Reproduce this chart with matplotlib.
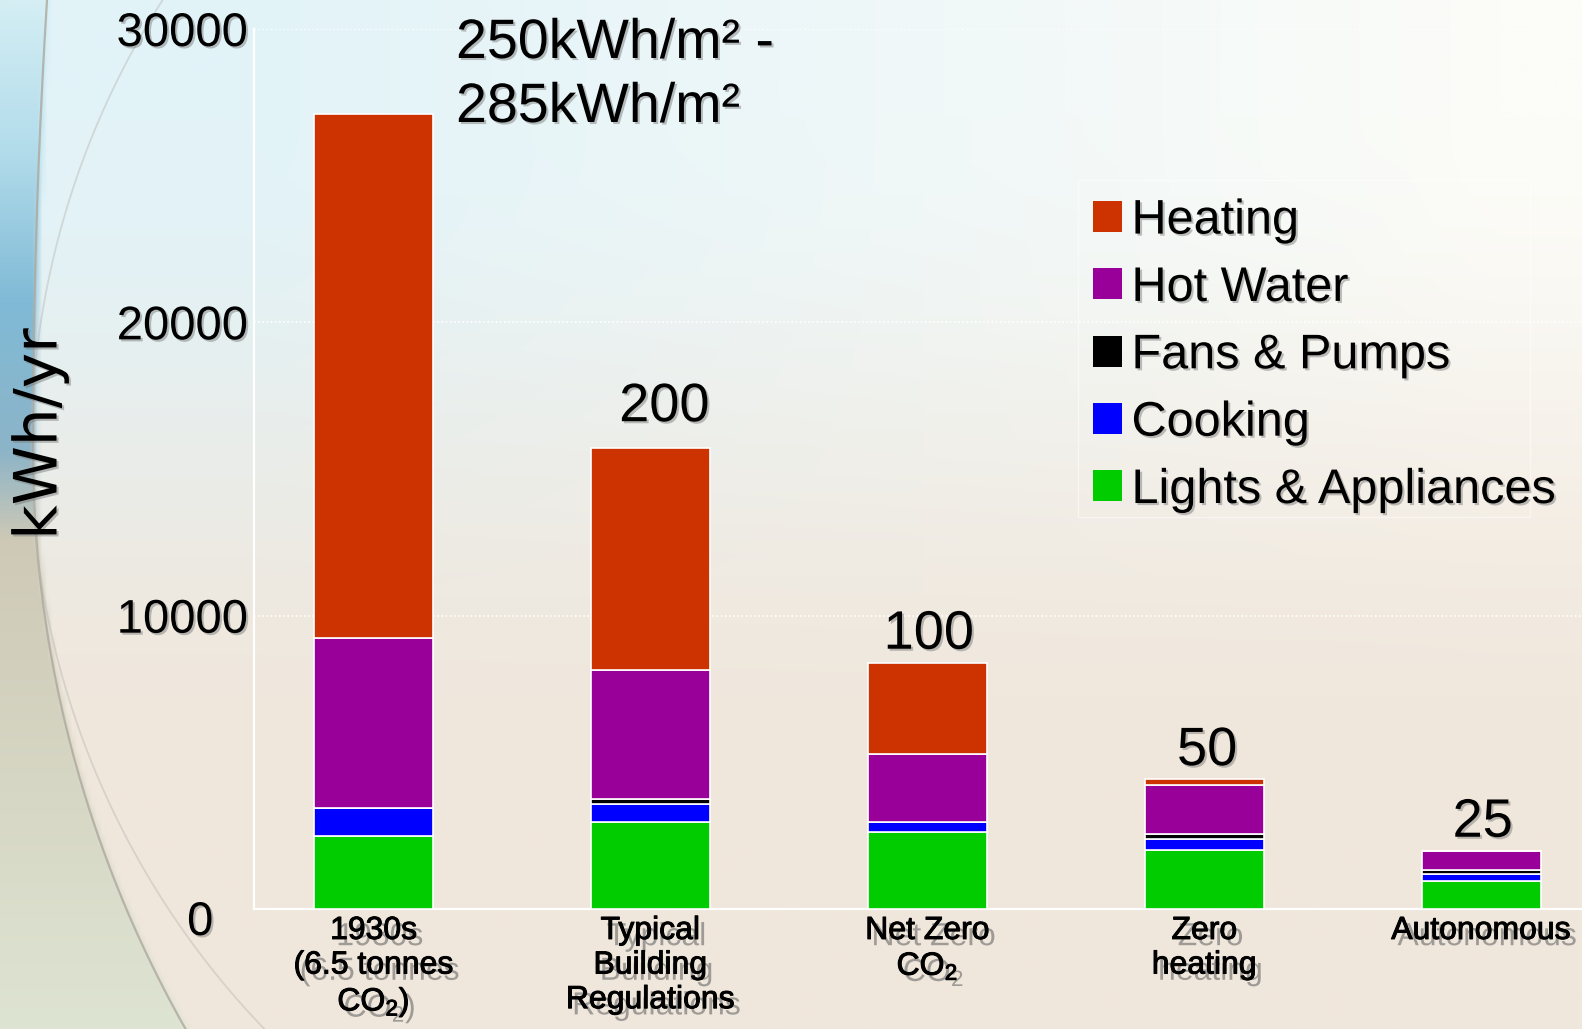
import numpy as np
import matplotlib
matplotlib.use("Agg")
import matplotlib.pyplot as plt
import matplotlib.patheffects as pe
from matplotlib.patches import Patch, Rectangle
from matplotlib.transforms import ScaledTranslation

# ---- data (kWh per year, stacked bottom -> top) ----
categories = ["1930s\n(6.5 tonnes\nCO$_2$)", "Typical\nBuilding\nRegulations",
              "Net Zero\nCO$_2$", "Zero\nheating", "Autonomous"]
lights = [2500, 2970, 2640, 2010, 950]
cooking = [950, 600, 320, 385, 260]
fans = [0, 170, 0, 170, 110]
hot_water = [5800, 4400, 2330, 1670, 670]
heating = [17850, 7590, 3110, 195, 0]
series_names = ["Lights & Appliances", "Cooking", "Fans & Pumps", "Hot Water", "Heating"]
intensity_labels = ["", "200", "100", "50", "25"]
range_label = ["250kWh/m² -", "285kWh/m²"]
yticks = [0, 10000, 20000, 30000]

# ---- styling ----
colors = {"Lights & Appliances": "#00CC00", "Cooking": "#0000FF",
          "Fans & Pumps": "#000000", "Hot Water": "#990099", "Heating": "#CC3300"}
plt.rcParams["font.family"] = ["Liberation Sans", "DejaVu Sans"]
plt.rcParams["mathtext.fontset"] = "custom"
plt.rcParams["mathtext.rm"] = "Liberation Sans"
plt.rcParams["mathtext.it"] = "Liberation Sans:italic"
plt.rcParams["mathtext.default"] = "rm"

W, H = 1582, 1029
fig = plt.figure(figsize=(W / 100, H / 100), dpi=100)

small_shadow = [pe.withSimplePatchShadow(offset=(1.5, -1.5), shadow_rgbFace=(0.45, 0.45, 0.45), alpha=0.45)]
label_shadow = [pe.SimplePatchShadow(offset=(4.5, -4.5), shadow_rgbFace=(0.45, 0.45, 0.45), alpha=0.65),
                pe.Stroke(linewidth=0.7, foreground="black"), pe.Normal()]


def arc_x(y):
    """x position of the sweeping arc at height y (pixels from the top)."""
    y = np.asarray(y, dtype=float)
    upper = 33 + (450 - y) ** 2 / (2 * 7232)
    lower = 1208 - np.sqrt(np.clip(1175 ** 2 - (y - 450) ** 2, 0, None))
    return np.where(y < 450, upper, lower)


def background():
    h, w = 206, 317
    yy, xx = np.mgrid[0:h, 0:w]
    X = xx * W / (w - 1)
    Y = yy * H / (h - 1)
    t = np.clip((X - 250) / 1250, 0, 1)[..., None]
    top = np.array([226, 243, 248]) * (1 - t) + np.array([252, 252, 248]) * t
    bottom = np.array([240, 231, 220])
    s = np.clip((Y - 120) / 650, 0, 1)
    s = (s * s * (3 - 2 * s))[..., None]
    img = top * (1 - s) + bottom * s
    # tinted band left of the sweeping arc
    outside = np.clip((arc_x(Y) - X) / 6 + 0.5, 0, 1)[..., None]
    ys = [0, 150, 300, 450, 540, 1029]
    cols = np.array([[212, 238, 244], [178, 220, 235], [128, 186, 214],
                     [140, 180, 200], [206, 201, 182], [222, 228, 210]])
    oc = np.stack([np.interp(Y, ys, cols[:, k]) for k in range(3)], axis=-1)
    img = img * (1 - outside) + oc * outside
    return np.clip(img / 255.0, 0, 1)


bg = fig.add_axes([0, 0, 1, 1], zorder=-10)
bg.imshow(background(), extent=[0, W, H, 0], aspect="auto", interpolation="bilinear")
yy_line = np.linspace(0, H, 300)
bg.plot(arc_x(yy_line), yy_line, color=(0.68, 0.66, 0.62), lw=1.6, alpha=0.8)
th2 = np.linspace(-np.arcsin(450 / 835), np.arcsin(579 / 835), 200)
bg.plot(866 - 835 * np.cos(th2), 450 + 835 * np.sin(th2), color=(0.72, 0.72, 0.70), lw=1.3, alpha=0.45)
# faint outline around the legend area
bg.add_patch(Rectangle((1078, 180), 452, 337, fill=False, edgecolor="white", alpha=0.5, lw=1.0))
bg.set_xlim(0, W)
bg.set_ylim(H, 0)
bg.axis("off")

# ---- main axes ----
ax = fig.add_axes([254 / W, (H - 909) / H, 1 - 254 / W, 880 / H])
ax.set_facecolor("none")
x = np.arange(len(categories))
width = 0.43
stack = [lights, cooking, fans, hot_water, heating]
bottom = np.zeros(len(categories))
for name, vals in zip(series_names, stack):
    ax.bar(x, vals, width, bottom=bottom, color=colors[name], edgecolor="white",
           linewidth=1.2, zorder=3)
    bottom = bottom + np.array(vals)
totals = bottom

ax.set_xlim(-0.4315, 4.3636)
ax.set_ylim(0, 30000)
ax.set_yticks(yticks)
ax.set_yticklabels([str(v) for v in yticks])
ax.tick_params(axis="y", length=0, pad=4, labelsize=34)
ax.set_xticks(x)
ax.set_xticklabels(categories, fontsize=23)
ax.tick_params(axis="x", length=0, pad=5)
for lab in ax.get_yticklabels():
    lab.set_path_effects(small_shadow)
for lab in ax.get_xticklabels():
    lab.set_path_effects(label_shadow)
zero_lab = ax.get_yticklabels()[0]
zero_lab.set_transform(zero_lab.get_transform() + ScaledTranslation(-0.35, -0.09, fig.dpi_scale_trans))

ax.yaxis.grid(True, color="white", linestyle=(0, (1, 1.5)), linewidth=1.2, zorder=0)
ax.set_axisbelow(True)
for side in ("top", "right"):
    ax.spines[side].set_visible(False)
for side in ("left", "bottom"):
    ax.spines[side].set_color("white")
    ax.spines[side].set_linewidth(1.6)

# per-area intensity above each bar
label_offsets = [(0, 10), (10, 19), (1, 10), (2, 10), (1, 10)]
for i, lab in enumerate(intensity_labels):
    if lab:
        ax.annotate(lab, (x[i], totals[i]), xytext=label_offsets[i], textcoords="offset points",
                    ha="center", va="baseline", fontsize=39, path_effects=small_shadow)

fig.text(456 / W, 1 - 58 / H, range_label[0], fontsize=40, ha="left", va="baseline",
         path_effects=small_shadow)
fig.text(456 / W, 1 - 122 / H, range_label[1], fontsize=40, ha="left", va="baseline",
         path_effects=small_shadow)

fig.text(40 / W, 1 - 434 / H, "kWh/yr", rotation=90, ha="center", va="center",
         fontsize=43, family="DejaVu Sans", path_effects=small_shadow)

handles = [Patch(facecolor=colors[n], edgecolor="none", label=n) for n in reversed(series_names)]
leg = ax.legend(handles=handles, loc="upper left", bbox_to_anchor=(1078 / W, 1 - 184 / H),
                bbox_transform=fig.transFigure, prop={"family": "Liberation Sans", "size": 35},
                handlelength=0.6, handleheight=0.6, handletextpad=0.2, labelspacing=0.46,
                borderpad=0.3, borderaxespad=0, frameon=False)
for t in leg.get_texts():
    t.set_path_effects(small_shadow)

fig.savefig("out.png", dpi=100)
